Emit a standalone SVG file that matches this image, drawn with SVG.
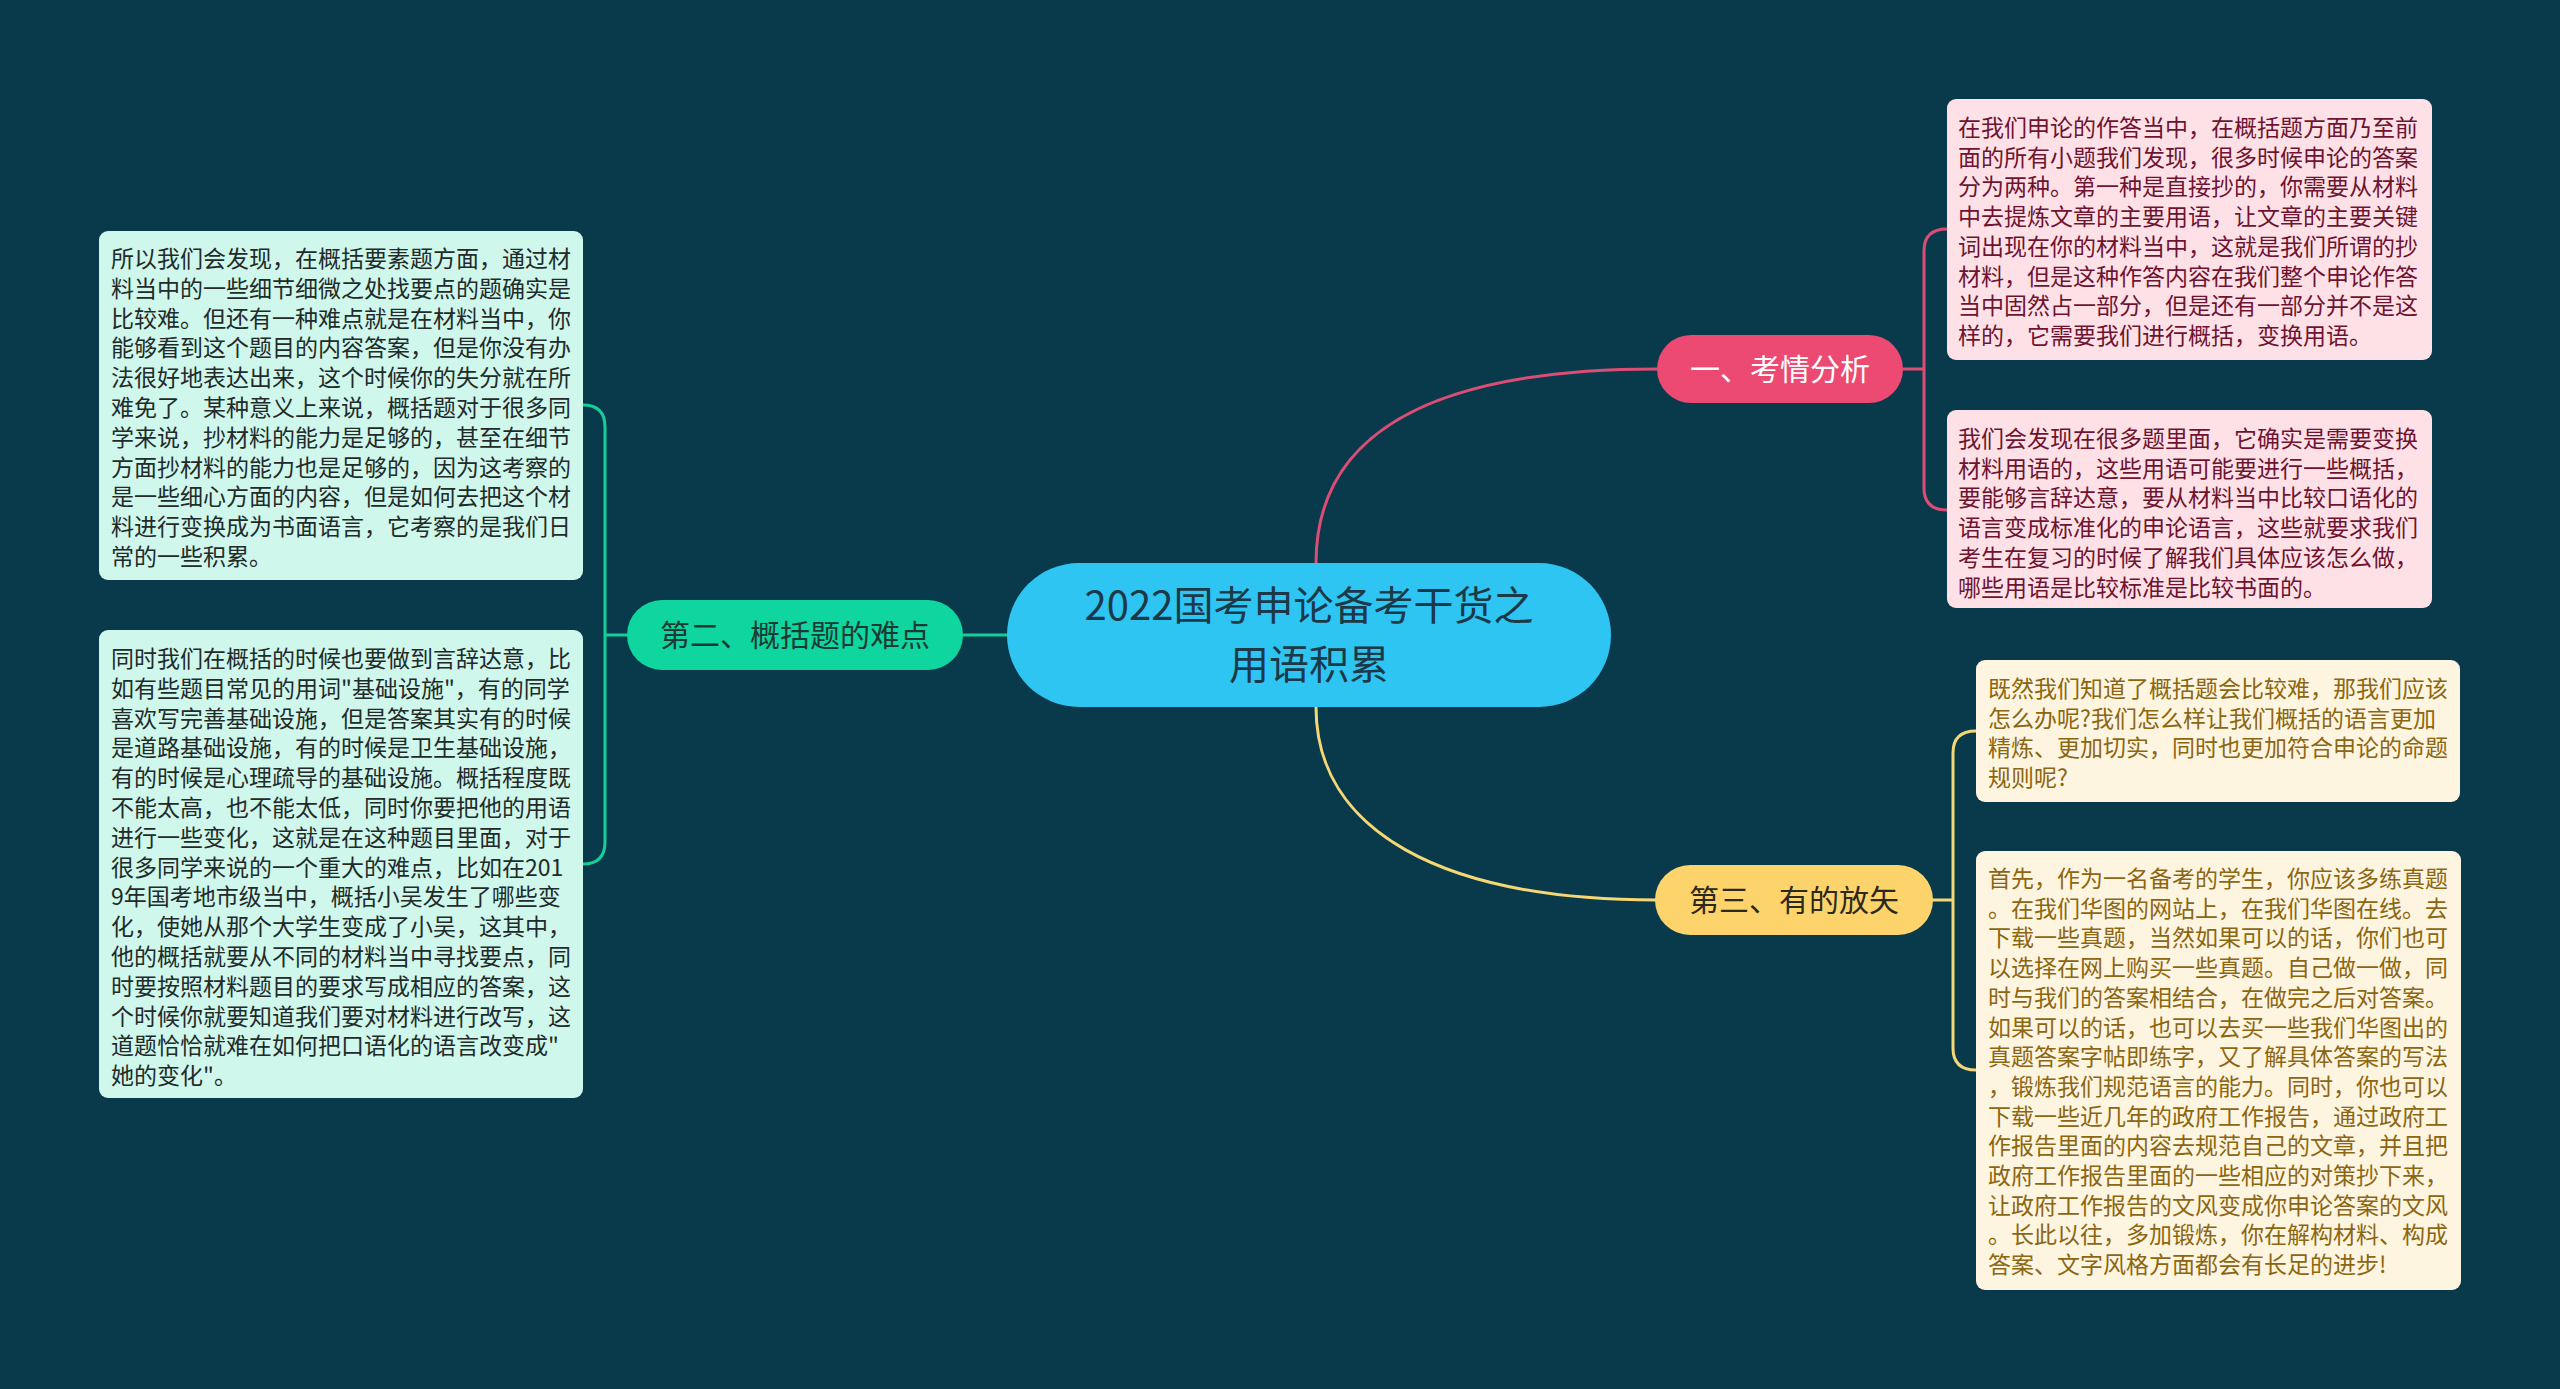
<svg xmlns="http://www.w3.org/2000/svg" width="2560" height="1389" viewBox="0 0 2560 1389">
<style>
text{font-family:"Noto Sans CJK SC","Noto Sans",sans-serif;}
.leaf{font-size:23px;}
.pk{fill:#fde1e7;}
.pkt{fill:#6e1330;}
.gn{fill:#cff7eb;}
.gnt{fill:#222a2a;}
.yl{fill:#fdf5df;}
.ylt{fill:#8c6612;}
.br{font-size:30px;text-anchor:middle;}
.c{fill:none;stroke-linecap:round;}
</style>
<rect x="0" y="0" width="2560" height="1389" fill="#093a4b"/>
<g id="connectors">
<path class="c" d="M1316,563 C1316,440 1420,369 1657,369" stroke="#dc4d75" stroke-width="3"/>
<path class="c" d="M1316,707 C1316,830 1440,900 1657,900" stroke="#f6d775" stroke-width="3"/>
<path class="c" d="M963,635 H1007" stroke="#15cf98" stroke-width="3"/>
<path class="c" d="M1903,369 H1924 M1924,369 V251 Q1924,229 1947,229 M1924,369 V488 Q1924,510 1947,510" stroke="#dc4d75" stroke-width="3"/>
<path class="c" d="M627,635 H605 M605,635 V427 Q605,405 583,405 M605,635 V842 Q605,864 583,864" stroke="#15cf98" stroke-width="3"/>
<path class="c" d="M1933,900 H1953 M1953,900 V753 Q1953,731 1976,731 M1953,900 V1048 Q1953,1070 1976,1070" stroke="#f6d775" stroke-width="3"/>
</g>
<g id="center">
<rect x="1007" y="563" width="604" height="144" rx="72" fill="#2ec5f3"/>
<text x="1309" y="620" font-size="40" text-anchor="middle" fill="#1c3948"><tspan x="1309">2022国考申论备考干货之</tspan><tspan x="1309" dy="59">用语积累</tspan></text>
</g>
<g id="branch1">
<rect x="1657" y="335" width="246" height="68" rx="34" fill="#ec4a72"/>
<text class="br" x="1780" y="380" fill="#ffffff">一、考情分析</text>
</g>
<g id="branch2">
<rect x="627" y="600" width="336" height="70" rx="35" fill="#0fd59f"/>
<text class="br" x="795" y="646" fill="#1b3a35">第二、概括题的难点</text>
</g>
<g id="branch3">
<rect x="1655" y="865" width="278" height="70" rx="35" fill="#fdd36b"/>
<text class="br" x="1794" y="911" fill="#2b2a1c">第三、有的放矢</text>
</g>
<g id="leaf-pink-1">
<rect class="pk" x="1947" y="99" width="485" height="261" rx="9"/>
<text class="leaf pkt" x="1958" y="136"><tspan x="1958">在我们申论的作答当中，在概括题方面乃至前</tspan><tspan x="1958" dy="29.7">面的所有小题我们发现，很多时候申论的答案</tspan><tspan x="1958" dy="29.7">分为两种。第一种是直接抄的，你需要从材料</tspan><tspan x="1958" dy="29.7">中去提炼文章的主要用语，让文章的主要关键</tspan><tspan x="1958" dy="29.7">词出现在你的材料当中，这就是我们所谓的抄</tspan><tspan x="1958" dy="29.7">材料，但是这种作答内容在我们整个申论作答</tspan><tspan x="1958" dy="29.7">当中固然占一部分，但是还有一部分并不是这</tspan><tspan x="1958" dy="29.7">样的，它需要我们进行概括，变换用语。</tspan></text>
</g>
<g id="leaf-pink-2">
<rect class="pk" x="1947" y="410" width="485" height="198" rx="9"/>
<text class="leaf pkt" x="1958" y="447"><tspan x="1958">我们会发现在很多题里面，它确实是需要变换</tspan><tspan x="1958" dy="29.7">材料用语的，这些用语可能要进行一些概括，</tspan><tspan x="1958" dy="29.7">要能够言辞达意，要从材料当中比较口语化的</tspan><tspan x="1958" dy="29.7">语言变成标准化的申论语言，这些就要求我们</tspan><tspan x="1958" dy="29.7">考生在复习的时候了解我们具体应该怎么做，</tspan><tspan x="1958" dy="29.7">哪些用语是比较标准是比较书面的。</tspan></text>
</g>
<g id="leaf-yellow-1">
<rect class="yl" x="1976" y="660" width="484" height="142" rx="9"/>
<text class="leaf ylt" x="1988" y="697"><tspan x="1988">既然我们知道了概括题会比较难，那我们应该</tspan><tspan x="1988" dy="29.7">怎么办呢?我们怎么样让我们概括的语言更加</tspan><tspan x="1988" dy="29.7">精炼、更加切实，同时也更加符合申论的命题</tspan><tspan x="1988" dy="29.7">规则呢?</tspan></text>
</g>
<g id="leaf-yellow-2">
<rect class="yl" x="1976" y="851" width="485" height="439" rx="9"/>
<text class="leaf ylt" x="1988" y="887"><tspan x="1988">首先，作为一名备考的学生，你应该多练真题</tspan><tspan x="1988" dy="29.7">。在我们华图的网站上，在我们华图在线。去</tspan><tspan x="1988" dy="29.7">下载一些真题，当然如果可以的话，你们也可</tspan><tspan x="1988" dy="29.7">以选择在网上购买一些真题。自己做一做，同</tspan><tspan x="1988" dy="29.7">时与我们的答案相结合，在做完之后对答案。</tspan><tspan x="1988" dy="29.7">如果可以的话，也可以去买一些我们华图出的</tspan><tspan x="1988" dy="29.7">真题答案字帖即练字，又了解具体答案的写法</tspan><tspan x="1988" dy="29.7">，锻炼我们规范语言的能力。同时，你也可以</tspan><tspan x="1988" dy="29.7">下载一些近几年的政府工作报告，通过政府工</tspan><tspan x="1988" dy="29.7">作报告里面的内容去规范自己的文章，并且把</tspan><tspan x="1988" dy="29.7">政府工作报告里面的一些相应的对策抄下来，</tspan><tspan x="1988" dy="29.7">让政府工作报告的文风变成你申论答案的文风</tspan><tspan x="1988" dy="29.7">。长此以往，多加锻炼，你在解构材料、构成</tspan><tspan x="1988" dy="29.7">答案、文字风格方面都会有长足的进步!</tspan></text>
</g>
<g id="leaf-green-1">
<rect class="gn" x="99" y="231" width="484" height="349" rx="9"/>
<text class="leaf gnt" x="111" y="267"><tspan x="111">所以我们会发现，在概括要素题方面，通过材</tspan><tspan x="111" dy="29.8">料当中的一些细节细微之处找要点的题确实是</tspan><tspan x="111" dy="29.8">比较难。但还有一种难点就是在材料当中，你</tspan><tspan x="111" dy="29.8">能够看到这个题目的内容答案，但是你没有办</tspan><tspan x="111" dy="29.8">法很好地表达出来，这个时候你的失分就在所</tspan><tspan x="111" dy="29.8">难免了。某种意义上来说，概括题对于很多同</tspan><tspan x="111" dy="29.8">学来说，抄材料的能力是足够的，甚至在细节</tspan><tspan x="111" dy="29.8">方面抄材料的能力也是足够的，因为这考察的</tspan><tspan x="111" dy="29.8">是一些细心方面的内容，但是如何去把这个材</tspan><tspan x="111" dy="29.8">料进行变换成为书面语言，它考察的是我们日</tspan><tspan x="111" dy="29.8">常的一些积累。</tspan></text>
</g>
<g id="leaf-green-2">
<rect class="gn" x="99" y="630" width="484" height="468" rx="9"/>
<text class="leaf gnt" x="111" y="667"><tspan x="111">同时我们在概括的时候也要做到言辞达意，比</tspan><tspan x="111" dy="29.8">如有些题目常见的用词"基础设施"，有的同学</tspan><tspan x="111" dy="29.8">喜欢写完善基础设施，但是答案其实有的时候</tspan><tspan x="111" dy="29.8">是道路基础设施，有的时候是卫生基础设施，</tspan><tspan x="111" dy="29.8">有的时候是心理疏导的基础设施。概括程度既</tspan><tspan x="111" dy="29.8">不能太高，也不能太低，同时你要把他的用语</tspan><tspan x="111" dy="29.8">进行一些变化，这就是在这种题目里面，对于</tspan><tspan x="111" dy="29.8">很多同学来说的一个重大的难点，比如在201</tspan><tspan x="111" dy="29.8">9年国考地市级当中，概括小吴发生了哪些变</tspan><tspan x="111" dy="29.8">化，使她从那个大学生变成了小吴，这其中，</tspan><tspan x="111" dy="29.8">他的概括就要从不同的材料当中寻找要点，同</tspan><tspan x="111" dy="29.8">时要按照材料题目的要求写成相应的答案，这</tspan><tspan x="111" dy="29.8">个时候你就要知道我们要对材料进行改写，这</tspan><tspan x="111" dy="29.8">道题恰恰就难在如何把口语化的语言改变成"</tspan><tspan x="111" dy="29.8">她的变化"。</tspan></text>
</g>
</svg>
